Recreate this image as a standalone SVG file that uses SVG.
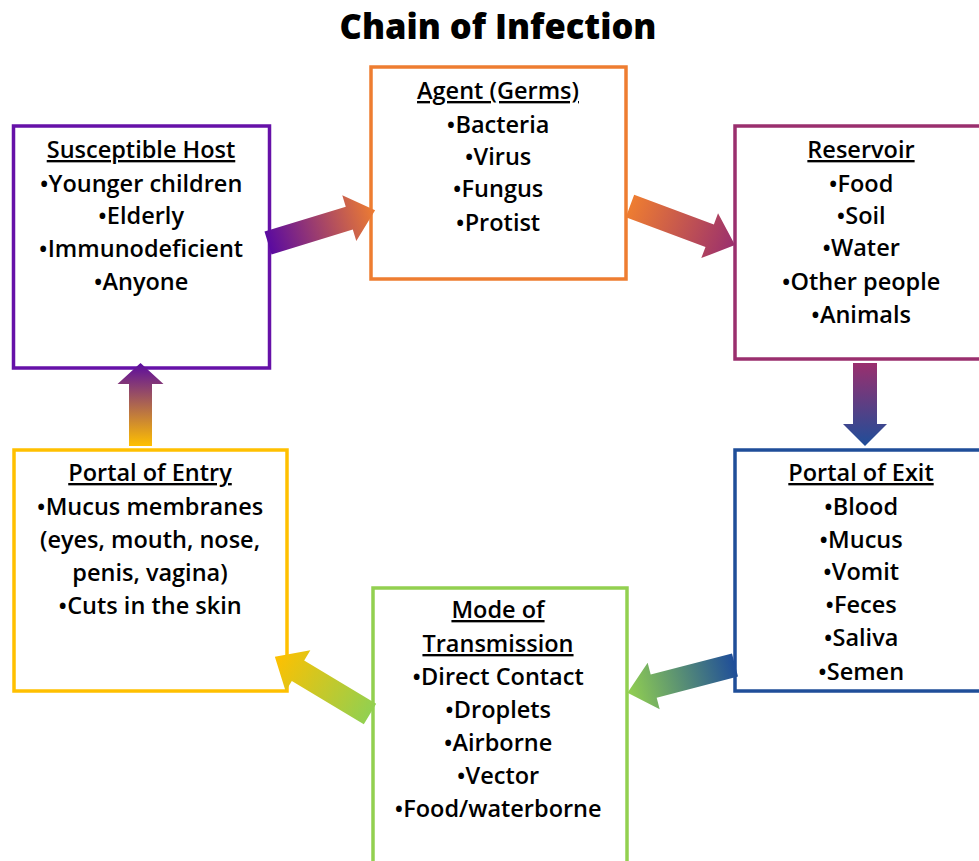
<svg xmlns="http://www.w3.org/2000/svg" width="979" height="861" viewBox="0 0 979 861">
<style>
.box{fill:#fff;stroke-width:3.5}
.t{font-family:"Open Sans","Liberation Sans",sans-serif;font-size:23.5px;font-weight:600;fill:#000;text-anchor:middle}
.h{text-decoration:underline}
.title{font-family:"Open Sans","Liberation Sans",sans-serif;font-size:34.5px;font-weight:800;fill:#000;text-anchor:middle}
</style>
<defs>
<linearGradient id="g1" x1="0" y1="0" x2="1" y2="0"><stop offset="0" stop-color="#5a0aa0"/><stop offset="1" stop-color="#ee7d31"/></linearGradient>
<linearGradient id="g2" x1="0" y1="0" x2="1" y2="0"><stop offset="0" stop-color="#ee7d31"/><stop offset="1" stop-color="#9a2f6e"/></linearGradient>
<linearGradient id="g3" x1="0" y1="0" x2="1" y2="0"><stop offset="0" stop-color="#9a2f6e"/><stop offset="1" stop-color="#1f4e99"/></linearGradient>
<linearGradient id="g4" x1="0" y1="0" x2="1" y2="0"><stop offset="0" stop-color="#1f4e99"/><stop offset="1" stop-color="#92d050"/></linearGradient>
<linearGradient id="g5" x1="0" y1="0" x2="1" y2="0"><stop offset="0" stop-color="#92d050"/><stop offset="1" stop-color="#ffc000"/></linearGradient>
<linearGradient id="g6" x1="0" y1="0" x2="1" y2="0"><stop offset="0" stop-color="#ffc000"/><stop offset="1" stop-color="#5a0aa0"/></linearGradient>
</defs>
<text class="title" x="498" y="39">Chain of Infection</text>

<g id="host">
<rect class="box" x="13.5" y="126" width="256" height="242" stroke="#6611a8"/>
<text class="t"><tspan class="h" x="141" y="158">Susceptible Host</tspan><tspan x="141" y="192">•Younger children</tspan><tspan x="141" y="224">•Elderly</tspan><tspan x="141" y="257">•Immunodeficient</tspan><tspan x="141" y="290">•Anyone</tspan></text>
</g>
<g id="agent">
<rect class="box" x="371" y="67" width="255" height="212" stroke="#ee7d31"/>
<text class="t"><tspan class="h" x="498" y="99">Agent (Germs)</tspan><tspan x="498" y="133">•Bacteria</tspan><tspan x="498" y="165">•Virus</tspan><tspan x="498" y="197">•Fungus</tspan><tspan x="498" y="231">•Protist</tspan></text>
</g>
<g id="reservoir">
<rect class="box" x="735" y="126" width="255" height="233" stroke="#9a2f6e"/>
<text class="t"><tspan class="h" x="861" y="158">Reservoir</tspan><tspan x="861" y="192">•Food</tspan><tspan x="861" y="224">•Soil</tspan><tspan x="861" y="256">•Water</tspan><tspan x="861" y="290">•Other people</tspan><tspan x="861" y="323">•Animals</tspan></text>
</g>
<g id="exit">
<rect class="box" x="735" y="450" width="255" height="241" stroke="#1f4e99"/>
<text class="t"><tspan class="h" x="861" y="481">Portal of Exit</tspan><tspan x="861" y="515">•Blood</tspan><tspan x="861" y="548">•Mucus</tspan><tspan x="861" y="580">•Vomit</tspan><tspan x="861" y="613">•Feces</tspan><tspan x="861" y="646">•Saliva</tspan><tspan x="861" y="680">•Semen</tspan></text>
</g>
<g id="mode">
<rect class="box" x="373" y="588" width="254" height="300" stroke="#92d050"/>
<text class="t"><tspan class="h" x="498" y="618">Mode of</tspan><tspan class="h" x="498" y="652">Transmission</tspan><tspan x="498" y="685">•Direct Contact</tspan><tspan x="498" y="718">•Droplets</tspan><tspan x="498" y="751">•Airborne</tspan><tspan x="498" y="784">•Vector</tspan><tspan x="498" y="817">•Food/waterborne</tspan></text>
</g>
<g id="entry">
<rect class="box" x="14" y="450" width="273" height="241" stroke="#ffc000"/>
<text class="t"><tspan class="h" x="150" y="481">Portal of Entry</tspan><tspan x="150" y="515">•Mucus membranes</tspan><tspan x="150" y="548">(eyes, mouth, nose,</tspan><tspan x="150" y="581">penis, vagina)</tspan><tspan x="150" y="614">•Cuts in the skin</tspan></text>
</g>

<g id="connectors">
<path transform="translate(268,243) rotate(-17)" fill="url(#g1)" d="M0,-12 L85,-12 L85,-24 L112,0 L85,24 L85,12 L0,12 Z"/>
<path transform="translate(630,206) rotate(20.4)" fill="url(#g2)" d="M0,-12 L85,-12 L85,-24 L112,0 L85,24 L85,12 L0,12 Z"/>
<path transform="translate(865,363) rotate(90)" fill="url(#g3)" d="M0,-12 L61,-12 L61,-22 L83,0 L61,22 L61,12 L0,12 Z"/>
<path transform="translate(735,665) rotate(165.5)" fill="url(#g4)" d="M0,-12 L84,-12 L84,-24 L111,0 L84,24 L84,12 L0,12 Z"/>
<path transform="translate(370,714) rotate(211)" fill="url(#g5)" d="M0,-12 L84,-12 L84,-24 L111,0 L84,24 L84,12 L0,12 Z"/>
<path transform="translate(140.5,446) rotate(-90)" fill="url(#g6)" d="M0,-11.5 L62,-11.5 L62,-23 L83,0 L62,23 L62,11.5 L0,11.5 Z"/>
</g>
</svg>
